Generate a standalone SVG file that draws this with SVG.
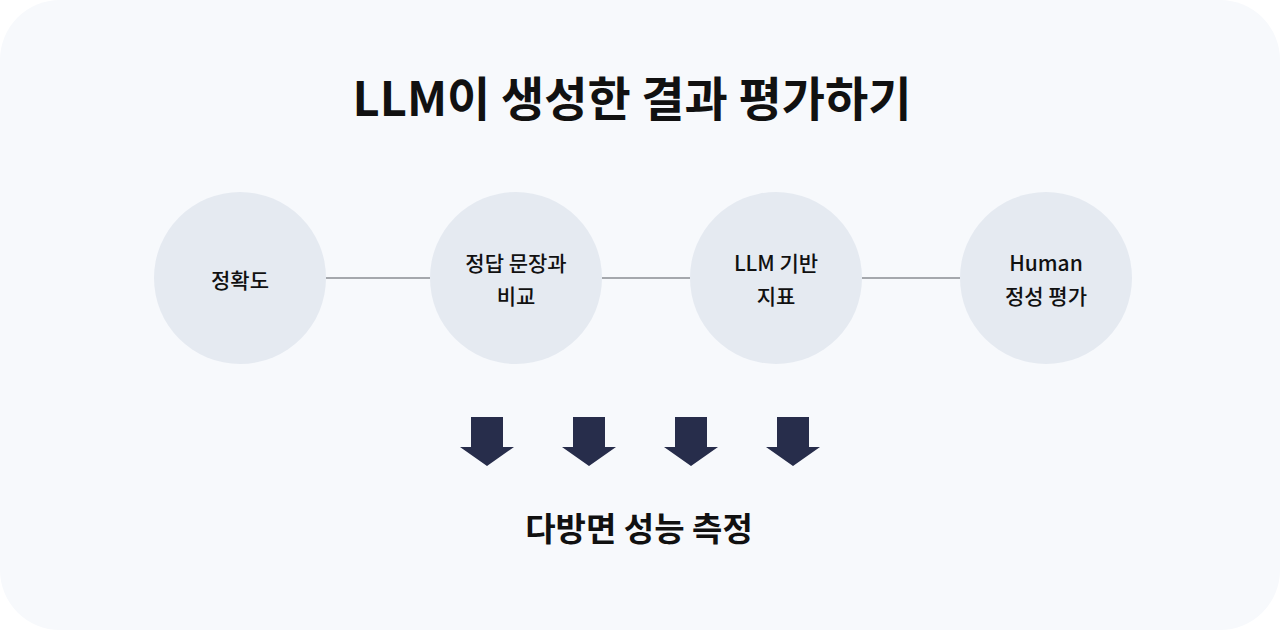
<svg xmlns="http://www.w3.org/2000/svg" width="1280" height="630" viewBox="0 0 1280 630">
<defs>
<style>
.bg{fill:#f7f9fc}
.node{fill:#e5eaf1}
.conn{stroke:#a5a8ad;stroke-width:2;fill:none}
.arrow{fill:#272d4b}
.t{font-family:"Noto Sans CJK KR","Noto Sans",sans-serif;fill:#111;text-anchor:middle}
.title{font-size:47px;font-weight:700}
.lbl{font-size:21px;font-weight:500}
.foot{font-size:33px;font-weight:700}
</style>
<path id="arr" d="M-16,0 H16 V30 H27 L0,49 L-27,30 H-16 Z"/>
</defs>
<rect width="1280" height="630" fill="#ffffff"/>
<rect class="bg" x="0" y="0" width="1280" height="630" rx="60" ry="60"/>
<text class="t title" x="632" y="116">LLM이 생성한 결과 평가하기</text>
<g id="connectors">
<line class="conn" x1="326" y1="278" x2="430" y2="278"/>
<line class="conn" x1="602" y1="278" x2="690" y2="278"/>
<line class="conn" x1="862" y1="278" x2="960" y2="278"/>
</g>
<g id="node-accuracy">
<circle class="node" cx="240" cy="278" r="86"/>
<text class="t lbl" x="240" y="288">정확도</text>
</g>
<g id="node-reference">
<circle class="node" cx="516" cy="278" r="86"/>
<text class="t lbl" x="516" y="271">정답 문장과</text>
<text class="t lbl" x="516" y="304">비교</text>
</g>
<g id="node-llm">
<circle class="node" cx="776" cy="278" r="86"/>
<text class="t lbl" x="776" y="271">LLM 기반</text>
<text class="t lbl" x="776" y="304">지표</text>
</g>
<g id="node-human">
<circle class="node" cx="1046" cy="278" r="86"/>
<text class="t lbl" x="1046" y="271">Human</text>
<text class="t lbl" x="1046" y="304">정성 평가</text>
</g>
<g id="arrows">
<use href="#arr" class="arrow" x="487" y="417"/>
<use href="#arr" class="arrow" x="589" y="417"/>
<use href="#arr" class="arrow" x="691" y="417"/>
<use href="#arr" class="arrow" x="793" y="417"/>
</g>
<text class="t foot" x="639" y="541">다방면 성능 측정</text>
</svg>
